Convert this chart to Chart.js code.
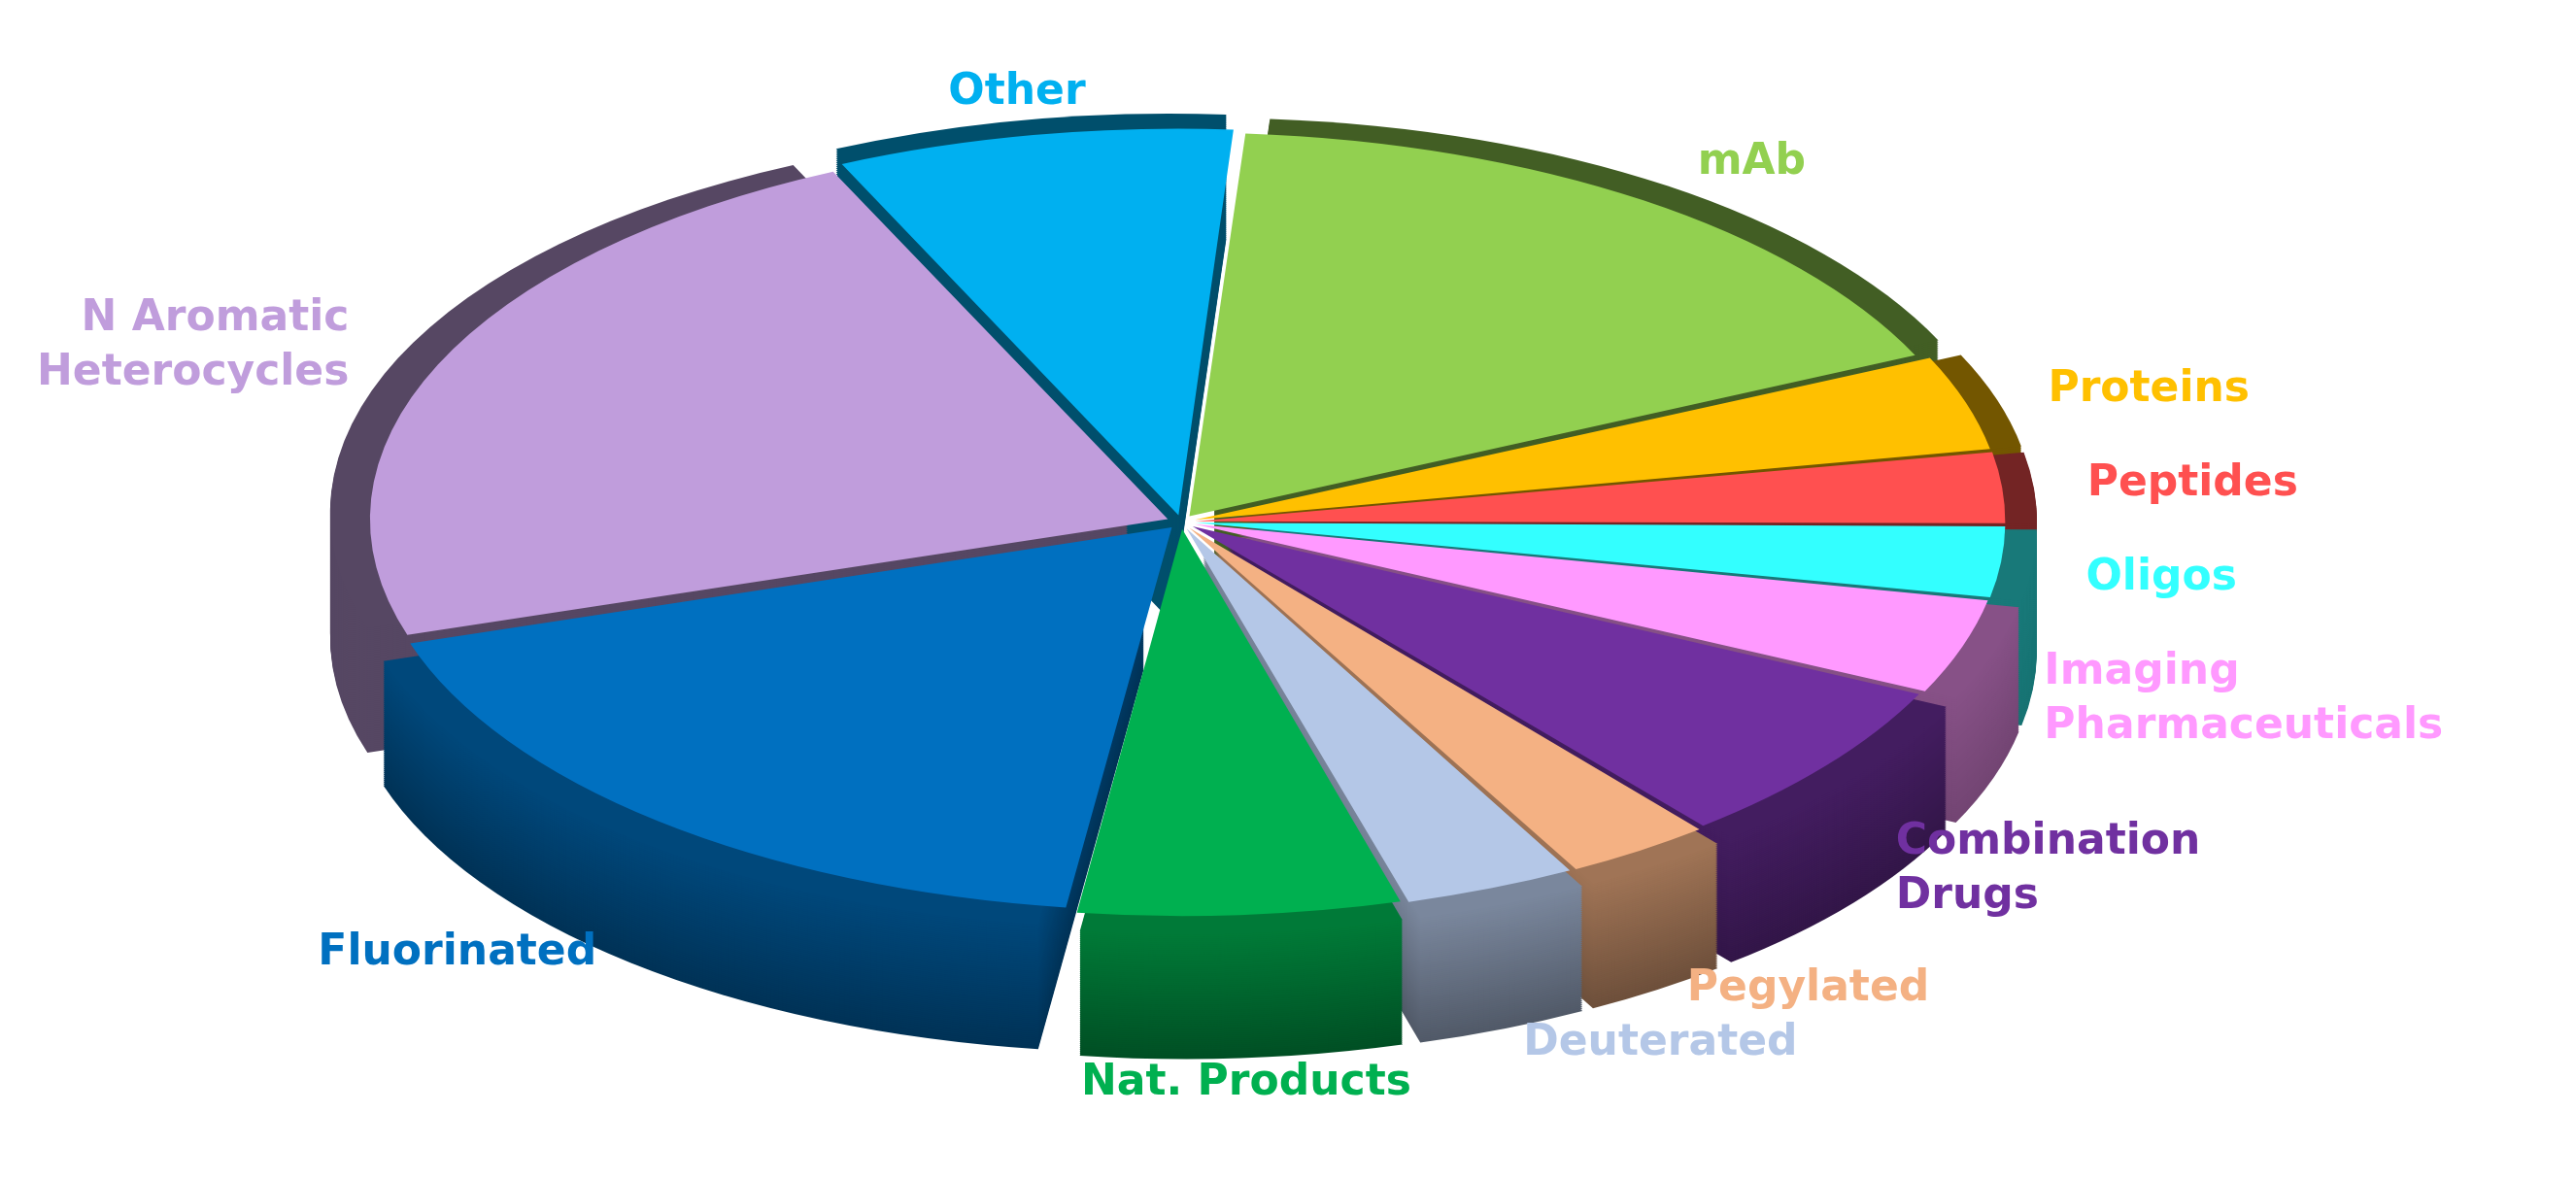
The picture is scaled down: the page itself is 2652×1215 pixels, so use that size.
<!DOCTYPE html>
<html>
<head>
<meta charset="utf-8">
<script src="https://cdn.jsdelivr.net/npm/chart.js@4.4.0/dist/chart.umd.min.js"></script>
<style>
  html, body { margin: 0; padding: 0; background: #fff; }
  #wrap { width: 2652px; height: 1215px; }
</style>
</head>
<body>
<div id="wrap"><canvas id="pie"></canvas></div>
<script>
// data (percent share, clockwise from the top)
var categories = ['mAb', 'Proteins', 'Peptides', 'Oligos', 'Imaging\nPharmaceuticals', 'Combination\nDrugs',
    'Pegylated', 'Deuterated', 'Nat. Products', 'Fluorinated', 'N Aromatic\nHeterocycles', 'Other'];
var shares = [17, 4, 3, 3, 4, 7, 3, 3.5, 6.5, 18, 23, 8];
var colors = ['#92d050', '#ffc000', '#ff5050', '#33ffff', '#ff99ff', '#7030a0',
    '#f4b183', '#b4c7e7', '#00b050', '#0070c0', '#c09ddc', '#00b0f0'];

var SX = 1.5, SY = 0.72, DEPTH = 130, SHIFT_X = -110, SHIFT_Y = -70;

function shade(hex, f) {
    var n = parseInt(hex.slice(1), 16);
    var r = Math.round(((n >> 16) & 255) * f), g = Math.round(((n >> 8) & 255) * f), b = Math.round((n & 255) * f);
    return 'rgb(' + r + ',' + g + ',' + b + ')';
}

function applyTransform(ctx, chart) {
    var a = chart.chartArea;
    var cx = (a.left + a.right) / 2, cy = (a.top + a.bottom) / 2;
    ctx.translate(cx + SHIFT_X, cy + SHIFT_Y);
    ctx.scale(SX, SY);
    ctx.translate(-cx, -cy);
}

var pie3d = {
    id: 'pie3d',
    beforeDatasetsDraw: function (chart) {
        var ctx = chart.ctx;
        ctx.save();
        applyTransform(ctx, chart);
        var arcs = chart.getDatasetMeta(0).data;
        var off = chart.data.datasets[0].offset;
        for (var k = DEPTH; k > 0; k -= 2) {
            arcs.forEach(function (arc, i) {
                var p = arc.getProps(['x', 'y', 'startAngle', 'endAngle', 'outerRadius']);
                var mid = (p.startAngle + p.endAngle) / 2;
                var x = p.x + Math.cos(mid) * off, y = p.y + Math.sin(mid) * off + k / SY;
                ctx.beginPath();
                ctx.moveTo(x, y);
                ctx.arc(x, y, p.outerRadius, p.startAngle, p.endAngle);
                ctx.closePath();
                ctx.fillStyle = shade(colors[i], 0.45 + 0.25 * (1 - k / DEPTH) * Math.max(0, Math.sin(mid)));
                ctx.fill();
            });
        }
    },
    afterDatasetsDraw: function (chart) {
        chart.ctx.restore();
    },
    afterDraw: function (chart) {
        var ctx = chart.ctx;
        var a = chart.chartArea;
        var cx = (a.left + a.right) / 2, cy = (a.top + a.bottom) / 2;
        var arcs = chart.getDatasetMeta(0).data;
        ctx.save();
        ctx.font = 'bold 44px "DejaVu Sans"';
        arcs.forEach(function (arc, i) {
            var p = arc.getProps(['x', 'y', 'startAngle', 'endAngle', 'outerRadius']);
            var mid = (p.startAngle + p.endAngle) / 2;
            var r = p.outerRadius * 1.14;
            var px = p.x + Math.cos(mid) * r, py = p.y + Math.sin(mid) * r;
            var sx = cx + SHIFT_X + (px - cx) * SX;
            var sy = cy + SHIFT_Y + (py - cy) * SY + (Math.sin(mid) > 0 ? DEPTH * Math.sin(mid) : 0);
            var lines = categories[i].split('\n');
            ctx.fillStyle = colors[i];
            ctx.textAlign = Math.abs(Math.cos(mid)) < 0.25 ? 'center' : (Math.cos(mid) > 0 ? 'left' : 'right');
            ctx.textBaseline = 'middle';
            lines.forEach(function (t, j) {
                ctx.fillText(t, sx, sy + (j - (lines.length - 1) / 2) * 56);
            });
        });
        ctx.restore();
    }
};

new Chart(document.getElementById('pie'), {
    type: 'pie',
    data: {
        labels: categories,
        datasets: [{
            data: shares,
            backgroundColor: colors,
            borderWidth: 0,
            offset: 40
        }]
    },
    options: {
        responsive: true,
        maintainAspectRatio: false,
        animation: false,
        rotation: 4,
        layout: { padding: { top: 40, bottom: 40 } },
        plugins: { legend: { display: false }, tooltip: { enabled: false } }
    },
    plugins: [pie3d]
});
</script>
</body>
</html>
